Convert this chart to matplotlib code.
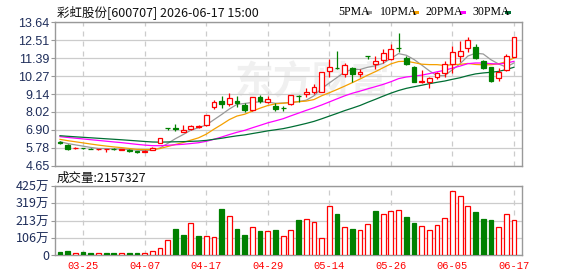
import numpy as np
import matplotlib
matplotlib.use("Agg")
import matplotlib.pyplot as plt
from matplotlib.patches import Rectangle

# ---------------- data ----------------
dates = ["03-20","03-23","03-24","03-25","03-26","03-27","03-30","03-31","04-01","04-02",
         "04-03","04-07","04-08","04-09","04-10","04-13","04-14","04-15","04-16","04-17",
         "04-20","04-21","04-22","04-23","04-24","04-27","04-28","04-29","04-30","05-06",
         "05-07","05-08","05-11","05-12","05-13","05-14","05-15","05-18","05-19","05-20",
         "05-21","05-22","05-25","05-26","05-27","05-28","05-29","06-01","06-02","06-03",
         "06-04","06-05","06-08","06-09","06-10","06-11","06-12","06-15","06-16","06-17"]

opens  = [6.14,5.95,5.77,5.76,5.72,5.69,5.67,5.69,5.66,5.66,
          5.58,5.52,5.63,6.09,7.00,7.02,6.78,6.93,7.05,7.20,
          8.35,8.73,8.52,8.70,8.45,8.14,8.98,8.62,8.39,8.26,
          8.50,9.04,9.14,9.29,9.29,10.60,10.78,10.38,10.80,10.40,
          11.55,11.00,11.28,11.32,12.03,11.42,10.82,9.90,9.92,10.19,
          10.44,11.00,11.53,12.01,12.07,11.23,10.82,10.13,10.65,11.45]
highs  = [6.18,6.00,5.80,5.78,5.74,5.72,5.69,5.73,5.70,5.68,
          5.60,5.62,5.80,6.36,7.00,7.25,7.20,7.18,7.20,7.85,
          8.77,9.00,9.20,9.00,8.60,8.98,9.10,9.05,8.55,8.40,
          9.10,9.08,9.50,9.75,10.52,11.32,11.86,11.07,10.86,10.69,
          11.55,11.53,11.95,12.28,12.95,11.50,10.90,10.65,10.19,10.55,
          11.23,12.15,12.47,12.70,12.28,11.30,10.85,10.80,11.64,12.70]
lows   = [6.03,5.65,5.70,5.72,5.68,5.66,5.48,5.64,5.62,5.54,
          5.45,5.50,5.62,6.05,6.90,6.85,6.75,6.90,7.00,7.12,
          8.18,8.27,8.40,8.30,8.03,8.10,8.60,8.60,8.10,8.10,
          8.45,8.66,8.98,9.14,9.25,10.23,10.71,10.23,9.92,10.23,
          11.35,10.69,11.07,11.28,11.76,10.95,9.88,9.85,9.54,10.10,
          10.23,10.44,11.17,11.80,11.32,10.70,9.92,9.96,10.61,11.45]
closes = [6.05,5.70,5.79,5.74,5.70,5.71,5.68,5.67,5.69,5.56,
          5.50,5.60,5.78,6.36,7.00,6.98,6.88,7.16,7.14,7.85,
          8.62,8.52,8.88,8.60,8.14,8.94,8.71,8.83,8.19,8.24,
          9.08,9.02,9.25,9.56,10.52,10.82,10.75,10.96,10.40,10.50,
          11.50,11.23,11.70,11.95,12.00,11.00,9.90,9.96,10.13,10.48,
          11.00,11.76,11.84,12.53,11.38,10.76,9.96,10.51,11.55,12.70]
# volume in 万 shares
volumes = [22,28,16,22,16,16,16,16,16,16,
           16,16,26,45,94,163,126,198,120,118,
           112,284,241,161,124,174,149,149,155,118,
           153,216,223,204,104,302,255,174,161,155,
           192,272,253,272,278,235,200,178,155,186,
           229,394,364,302,266,223,216,174,253,216]
# closes before the window (used only for the moving averages)
prior_closes = [6.80,6.75,6.70,6.62,6.66,6.60,6.58,6.64,6.62,6.53,
                6.70,6.72,6.68,6.66,6.62,6.64,6.60,6.58,6.62,6.58,
                6.52,6.48,6.45,6.42,6.38,6.28,6.20,6.14,6.10]

price_ticks = [4.65, 5.78, 6.90, 8.02, 9.14, 10.27, 11.39, 12.51, 13.64]
vol_ticks = [0, 106.25, 212.5, 318.75, 425]
vol_labels = ["0", "106万", "213万", "319万", "425万"]
date_tick_idx = [3, 11, 19, 27, 35, 43, 51, 59]
ma_periods = [5, 10, 20, 30]
ma_colors = ["#999999", "#f5a000", "#ff00ff", "#006e34"]
title = "彩虹股份[600707] 2026-06-17 15:00"
vol_title = "成交量:2157327"

RED = "#ff0000"
GREEN = "#008000"
GRID = "#cccccc"
FRAME = "#999999"
TICKC = "#1e2d5a"

# ---------------- figure ----------------
W, H = 578, 276
fig = plt.figure(figsize=(W/100, H/100), dpi=100)
fig.patch.set_facecolor("white")

def fx(px): return px / W
def fy(py): return 1 - py / H

L, R = 55, 522.3
ax = fig.add_axes([fx(L), fy(165.7), fx(R) - fx(L), fy(22.3) - fy(165.7)])
axv = fig.add_axes([fx(L), fy(255.3), fx(R) - fx(L), fy(186) - fy(255.3)])

n = len(closes)
x = np.arange(n)
o = np.array(opens); h = np.array(highs); l = np.array(lows); c = np.array(closes)
v = np.array(volumes)

xlim = (-0.65, n + 0.08)

# watermark
ax.text(0.55, 0.58, "东方财富", transform=ax.transAxes, ha="center", va="center",
        fontsize=28, fontweight="bold", style="italic", color="#f0f0f0",
        family=["Noto Sans CJK SC"], zorder=0)

# moving averages
allc = np.array(prior_closes + closes)
off = len(prior_closes)
for p, col in zip(ma_periods, ma_colors):
    ma = np.array([allc[i - p + 1:i + 1].mean() for i in range(off, off + n)])
    ax.plot(x, ma, color=col, lw=0.9, zorder=2)

# candles
bw = 0.62
for i in range(n):
    col = RED if c[i] > o[i] else GREEN
    ax.vlines(x[i], l[i], h[i], color=col, lw=0.9, zorder=3)
    bot = min(o[i], c[i]); ht = max(abs(c[i] - o[i]), 0.02)
    if c[i] > o[i]:
        ax.bar(x[i], ht, bw, bottom=bot, facecolor="white", edgecolor=RED, lw=0.9, zorder=4)
    else:
        ax.bar(x[i], ht, bw, bottom=bot, facecolor=col, edgecolor=col, lw=0.9, zorder=4)

# volume bars: colour by change vs previous close
prev = np.concatenate([[prior_closes[-1]], c[:-1]])
for i in range(n):
    if c[i] >= prev[i]:
        axv.bar(x[i], v[i], bw, facecolor="white", edgecolor=RED, lw=0.9, zorder=3)
    else:
        axv.bar(x[i], v[i], bw, facecolor=GREEN, edgecolor=GREEN, lw=0.9, zorder=3)

for a in (ax, axv):
    a.set_xlim(*xlim)
    for s in a.spines.values():
        s.set_color(FRAME); s.set_linewidth(1.0)
    a.set_xticks(date_tick_idx)
    a.grid(axis="x", color=GRID, ls=(0, (4, 4)), lw=0.9, zorder=1)
    a.grid(axis="y", color=GRID, ls="-", lw=0.9, zorder=1)
    a.set_axisbelow(True)
    a.tick_params(axis="y", length=3, width=0.8, color=FRAME, pad=1,
                  labelsize=9, labelcolor=TICKC)
    a.tick_params(axis="x", length=0)

ax.set_ylim(price_ticks[0], price_ticks[-1])
ax.set_yticks(price_ticks)
ax.set_yticklabels([f"{t:.2f}" for t in price_ticks], family="Liberation Sans")
ax.set_xticklabels([])

axv.set_ylim(0, 425)
axv.set_yticks(vol_ticks)
axv.set_yticklabels(vol_labels, family=["Noto Sans CJK SC"], fontsize=9)
axv.set_xticklabels([dates[i] for i in date_tick_idx], family="Liberation Mono",
                    fontsize=7.5, color=RED)
axv.tick_params(axis="x", pad=4)

# titles
fig.text(fx(57), fy(12), title, ha="left", va="center", fontsize=9,
         family=["Noto Sans CJK SC"], color="#111111")
fig.text(fx(57), fy(178), vol_title, ha="left", va="center", fontsize=9,
         family=["Noto Sans CJK SC"], color="#111111")

# legend
leg = [("5PMA", 338, 366), ("10PMA", 380, 413), ("20PMA", 425, 460), ("30PMA", 472, 505)]
for (lab, tx, sx), col in zip(leg, ma_colors):
    fig.text(fx(tx), fy(12), lab, ha="left", va="center", fontsize=8.5,
             family="Liberation Serif", color="#000000")
    fig.add_artist(Rectangle((fx(sx), fy(14)), fx(6), 3 / H, transform=fig.transFigure,
                             facecolor=col, edgecolor="none"))

fig.savefig("out.png", dpi=100)
